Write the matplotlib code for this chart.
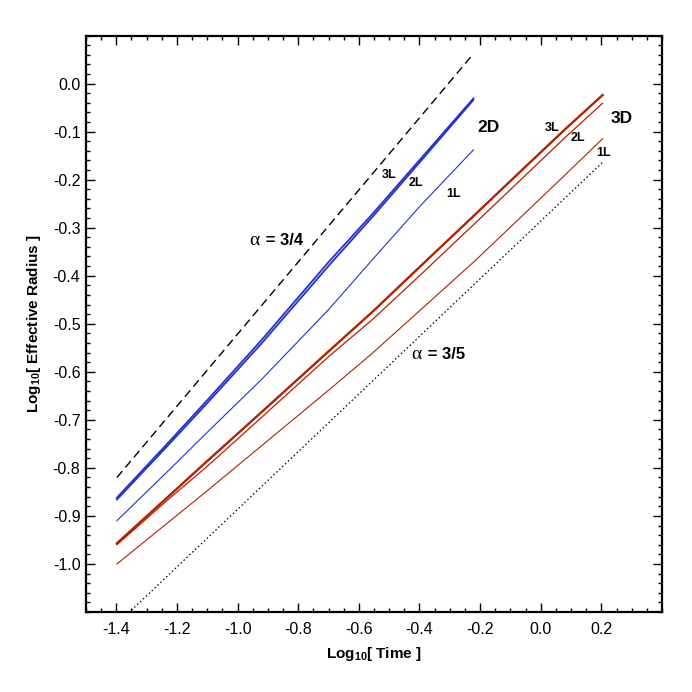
import numpy as np
import matplotlib
matplotlib.use("Agg")
import matplotlib.pyplot as plt
from matplotlib.ticker import MultipleLocator

plt.rcParams['font.family'] = ['Liberation Sans', 'DejaVu Sans']
plt.rcParams['mathtext.fontset'] = 'custom'
plt.rcParams['mathtext.rm'] = 'Liberation Sans:bold'
plt.rcParams['mathtext.default'] = 'rm'

# ---- data: log10(time) sample points ----
x2d = [-1.398, -1.222, -1.097, -0.921, -0.699, -0.553, -0.398, -0.222]
x3d = [-1.398, -1.222, -1.097, -0.921, -0.699, -0.553, -0.398, -0.222, -0.097, 0.079, 0.204]

blue_3L = [-0.862, -0.743, -0.657, -0.534, -0.371, -0.270, -0.158, -0.031]
blue_2L = [-0.866, -0.748, -0.663, -0.541, -0.379, -0.276, -0.163, -0.034]
blue_1L = [-0.910, -0.802, -0.724, -0.616, -0.470, -0.365, -0.255, -0.138]

red_3L = [-0.957, -0.856, -0.784, -0.684, -0.557, -0.474, -0.381, -0.276, -0.201, -0.096, -0.024]
red_2L = [-0.960, -0.862, -0.795, -0.695, -0.568, -0.490, -0.399, -0.294, -0.219, -0.113, -0.041]
red_1L = [-1.000, -0.910, -0.846, -0.754, -0.638, -0.560, -0.472, -0.372, -0.297, -0.191, -0.115]

# reference power-law guide lines (alpha slopes)
guide34_x = [-1.398, -0.222]
guide34_y = [-0.820, 0.062]
guide35_x = [-1.398, 0.204]
guide35_y = [-1.125, -0.164]

xticks = [-1.4, -1.2, -1.0, -0.8, -0.6, -0.4, -0.2, 0.0, 0.2]
yticks = [0.0, -0.1, -0.2, -0.3, -0.4, -0.5, -0.6, -0.7, -0.8, -0.9, -1.0]

BLUE = '#2233cc'
RED = '#b02200'

fig = plt.figure(figsize=(6.92, 6.92), dpi=100)
ax = fig.add_axes([86/692, 80/692, (662-86)/692, (612-35.5)/692])

ax.plot(guide34_x, guide34_y, color='black', lw=1.0, dashes=(6, 3.5))
ax.plot(guide35_x, guide35_y, color='black', lw=0.9, dashes=(1.2, 2.0))

ax.plot(x2d, blue_1L, color=BLUE, lw=0.8)
ax.plot(x2d, blue_2L, color=BLUE, lw=1.3)
ax.plot(x2d, blue_3L, color=BLUE, lw=1.3)

ax.plot(x3d, red_1L, color=RED, lw=0.8)
ax.plot(x3d, red_2L, color=RED, lw=0.9)
ax.plot(x3d, red_3L, color=RED, lw=1.7)

ax.set_xlim(-1.5, 0.4)
ax.set_ylim(-1.1, 0.1)
ax.set_xticks(xticks)
ax.set_yticks(yticks)
ax.set_xticklabels([f"{v:.1f}" for v in xticks])
ax.set_yticklabels([f"{v:.1f}" for v in yticks])
ax.xaxis.set_minor_locator(MultipleLocator(0.05))
ax.yaxis.set_minor_locator(MultipleLocator(0.02))
ax.tick_params(which='both', direction='in', top=True, right=True, width=1.0)
ax.tick_params(which='major', length=6.5, labelsize=11.5)
ax.tick_params(axis='x', which='major', pad=7)
ax.tick_params(axis='y', which='major', pad=4)
ax.tick_params(which='minor', length=3)
for s in ax.spines.values():
    s.set_linewidth(1.6)

ax.set_xlabel("Log$_{10}$[ Time ]", fontsize=11, fontweight='bold', labelpad=6)
ax.set_ylabel("Log$_{10}$[ Effective Radius ]", fontsize=11, fontweight='bold', labelpad=7)

# annotations
ax.text(-0.928, -0.326, "\u03b1", family='Liberation Serif', fontsize=14, ha='right', va='center')
ax.text(-0.923, -0.326, " = 3/4", fontsize=12, fontweight='bold', ha='left', va='center')
ax.text(-0.393, -0.564, "\u03b1", family='Liberation Serif', fontsize=14, ha='right', va='center')
ax.text(-0.388, -0.564, " = 3/5", fontsize=12, fontweight='bold', ha='left', va='center')

ax.text(-0.209, -0.092, "2D", fontsize=12.5, fontweight='bold', ha='left', va='center')
ax.text(0.232, -0.073, "3D", fontsize=12.5, fontweight='bold', ha='left', va='center')

for lab, xx, yy in [("3L", -0.499, -0.191), ("2L", -0.411, -0.208), ("1L", -0.289, -0.229),
                    ("3L", 0.039, -0.092), ("2L", 0.123, -0.113), ("1L", 0.206, -0.144)]:
    ax.text(xx, yy, lab, fontsize=9, fontweight='bold', ha='center', va='center')

fig.savefig("out.png", dpi=100)
